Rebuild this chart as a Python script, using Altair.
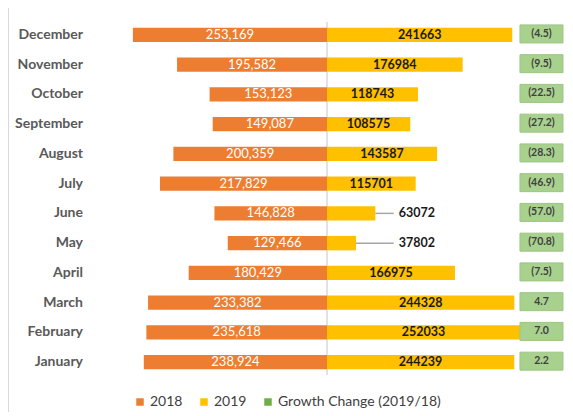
import altair as alt
import pandas as pd

months = ["December", "November", "October", "September", "August", "July",
          "June", "May", "April", "March", "February", "January"]
v2018 = [253169, 195582, 153123, 149087, 200359, 217829,
         146828, 129466, 180429, 233382, 235618, 238924]
v2019 = [241663, 176984, 118743, 108575, 143587, 115701,
         63072, 37802, 166975, 244328, 252033, 244239]
growth = [-4.5, -9.5, -22.5, -27.2, -28.3, -46.9,
          -57.0, -70.8, -7.5, 4.7, 7.0, 2.2]
series = ["2018", "2019", "Growth Change (2019/18)"]
colors = ["#ED7D31", "#FFC000", "#70AD47"]

FONT = "Lato"
W, H = 460, 357

wide = pd.DataFrame({"month": months, "idx": list(range(len(months))),
                     "v18": v2018, "v19": v2019, "g": growth})
wide["lab18"] = [f"{v:,}" for v in wide["v18"]]
wide["lab19"] = [str(v) for v in wide["v19"]]
wide["glab"] = [f"({abs(g):.1f})" if g < 0 else f"{g:.1f}" for g in wide["g"]]

long = pd.concat([
    pd.DataFrame({"month": months, "idx": list(range(len(months))), "series": "2018",
                  "x0": [-v for v in v2018], "x1": 0}),
    pd.DataFrame({"month": months, "idx": list(range(len(months))), "series": "2019",
                  "x0": 0, "x1": v2019}),
], ignore_index=True)

xscale = alt.Scale(domain=[-300000, 300000], nice=False, zero=False)
yscale = alt.Scale(domain=[-0.5, 11.5], reverse=True, nice=False, zero=False)

base = alt.Chart(wide).transform_calculate(
    mid18="-datum.v18 / 2",
    mid19="datum.v19 / 2",
    zero="0",
    top="-0.43",
    bot="11.43",
    frame_x="-415435",
    frame_t="-0.903",
    frame_b="12.8",
    name_x="-318260",
    lead_end="87000",
    out_pos="93500",
    box_l="251700",
    box_r="307800",
    box_c="279750",
    box_t="datum.idx - 0.335",
    box_b="datum.idx + 0.27",
    gy="datum.idx - 0.03",
    inside="datum.v19 >= 80000",
)

def X(f):
    return alt.X(f, scale=xscale, axis=None)

def Y(f):
    return alt.Y(f, scale=yscale, axis=None)

frame = base.transform_filter("datum.idx == 0").mark_rule(
    color="#d9d9d9", strokeWidth=1).encode(
    x=X("frame_x:Q"), y=Y("frame_t:Q"), y2="frame_b:Q")

center = base.transform_filter("datum.idx == 0").mark_rule(
    color="#d9d9d9", strokeWidth=1.5).encode(
    x=X("zero:Q"), y=Y("top:Q"), y2="bot:Q")

names = base.mark_text(color="#595959", font=FONT, fontSize=14, fontWeight="bold",
                       align="right").encode(
    y=Y("idx:Q"), x=X("name_x:Q"), text="month:N")

bars = alt.Chart(long).transform_calculate(
    yt="datum.idx - 0.243", yb="datum.idx + 0.243"
).mark_rect().encode(
    y=Y("yt:Q"),
    y2="yb:Q",
    x=X("x0:Q"),
    x2="x1:Q",
    color=alt.Color("series:N", scale=alt.Scale(domain=series, range=colors),
                    legend=alt.Legend(title=None, orient="none", legendX=36, legendY=375,
                                      direction="horizontal", symbolType="square",
                                      symbolSize=56, symbolStrokeWidth=0,
                                      labelFont=FONT, labelFontSize=14, labelLimit=400,
                                      labelColor="#404040", columnPadding=14,
                                      labelOffset=3, padding=0)),
)

lab18 = base.mark_text(color="white", font=FONT, fontSize=13).encode(
    y=Y("idx:Q"), x=X("mid18:Q"), text="lab18:N")

lab19in = base.transform_filter("datum.inside").mark_text(
    color="#1a1a1a", font=FONT, fontSize=12.5, fontWeight="bold").encode(
    y=Y("idx:Q"), x=X("mid19:Q"), text="lab19:N")

leader = base.transform_filter("!datum.inside").mark_rule(
    color="#a6a6a6", strokeWidth=1.5).encode(
    y=Y("idx:Q"), x=X("v19:Q"), x2="lead_end:Q")

lab19out = base.transform_filter("!datum.inside").mark_text(
    color="#1a1a1a", font=FONT, fontSize=12.5, fontWeight="bold", align="left").encode(
    y=Y("idx:Q"), x=X("out_pos:Q"), text="lab19:N")

boxes = base.mark_rect(fill="#A9D18E", stroke="#9cc583", strokeWidth=1).encode(
    y=Y("box_t:Q"), y2="box_b:Q", x=X("box_l:Q"), x2="box_r:Q")

glab = base.mark_text(color="#404040", font=FONT, fontSize=10.5, fontWeight="bold").encode(
    y=Y("gy:Q"), x=X("box_c:Q"), text="glab:N")

chart = alt.layer(frame, center, names, bars, lab18, lab19in, leader, lab19out,
                  boxes, glab).properties(
    width=W, height=H,
    autosize=alt.AutoSizeParams(type="none"),
    padding={"left": 89, "top": 12, "right": 8, "bottom": 35},
    background="white",
).configure_view(stroke=None)

chart.save("out.html", embed_options={"renderer": "svg", "actions": False})
